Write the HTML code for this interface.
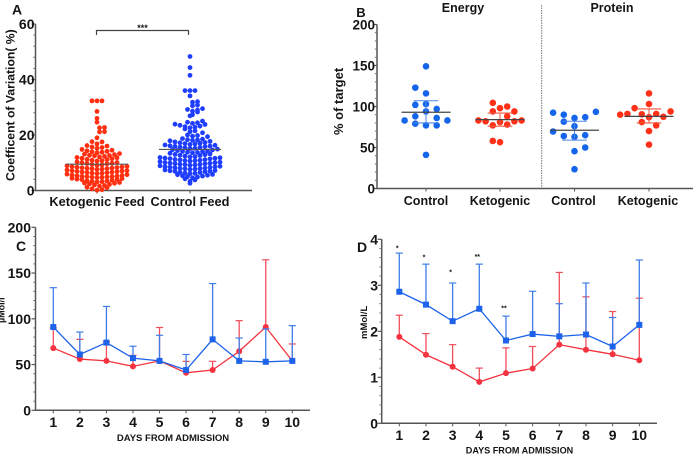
<!DOCTYPE html>
<html lang="en">
<head>
<meta charset="utf-8">
<title>Four panel chart</title>
<style>
html,body{margin:0;padding:0;background:#fff;width:700px;height:457px;overflow:hidden}
svg{display:block;filter:blur(.35px)}
text{font-family:"Liberation Sans",sans-serif;font-weight:bold;fill:#151515}
</style>
</head>
<body>
<svg id="fig" xmlns="http://www.w3.org/2000/svg" width="700" height="457" viewBox="0 0 700 457"></svg>
<script>
// Panel A
const aGroups = ["Ketogenic Feed", "Control Feed"];
const aTicks = [0, 20, 40, 60];
const aKeto = [0.1,0.3,0.6,1,1.2,1.6,1.8,2,2.2,2.4,2.6,2.7,2.9,3.1,3.2,3.3,3.4,3.5,3.7,3.9,4,4.1,4.3,4.4,4.6,4.7,4.8,4.9,5,5,5.1,5.2,5.3,5.4,5.5,5.7,5.9,6.1,6.2,6.3,6.4,6.5,6.6,6.7,6.8,6.9,7,7.1,7.2,7.4,7.6,7.7,7.8,7.9,8,8.1,8.2,8.3,8.4,8.5,8.6,8.7,8.9,9.1,9.2,9.4,9.6,9.7,9.8,10,10.1,10.3,10.6,10.7,10.9,11.1,11.2,11.4,11.6,11.8,11.9,12.1,12.3,12.5,12.6,12.7,12.9,13.1,13.3,13.6,13.8,14,14.1,14.3,14.5,14.8,15.2,15.5,15.7,16,16.2,16.8,17.5,17.6,19,21.1,21.2,22.6,22.7,24.6,26,28.5,32.3,32.3,32.3];
const aControl = [2.6,3.3,3.8,4.2,4.6,4.9,5,5.2,5.3,5.5,5.7,5.8,6.1,6.2,6.3,6.5,6.6,6.8,6.9,7,7.1,7.2,7.4,7.6,7.7,7.8,7.9,8,8.1,8.2,8.3,8.4,8.5,8.6,8.7,8.9,9.1,9.2,9.3,9.4,9.5,9.6,9.7,9.8,9.9,10,10.1,10.2,10.4,10.6,10.7,10.8,10.9,11,11.1,11.2,11.4,11.5,11.6,11.7,11.8,11.9,12.1,12.2,12.4,12.6,12.7,12.9,13,13.2,13.4,13.6,13.7,13.8,14,14.1,14.2,14.4,14.6,14.7,14.9,15.1,15.2,15.4,15.5,15.6,15.8,15.9,16,16.1,16.3,16.4,16.6,16.8,16.9,17,17.2,17.3,17.5,17.7,17.9,18.1,18.2,18.3,18.5,18.7,19.4,19.6,19.8,20,20.8,21.2,21.5,22.2,22.6,22.8,23,23.2,23.5,23.8,23.9,24.2,24.4,24.6,25,26.9,27.3,28.3,28.6,29,29.2,29.5,30.5,30.8,31.8,32,34.1,36,36,36,41.5,44.3,48.3];
const aMeans = [9.5, 14.8];

// Panel B
const bGroups = ["Control", "Ketogenic", "Control", "Ketogenic"];
const bTicks = [0, 50, 100, 150, 200];
const bEnergyControl = [149,116,103,94,86,77,41,123,97,102,88,79,77,83,83];
const bEnergyKeto = [98,81,100,104.5,88,94,78,77,94,82,82,83,83,56.5,58];
const bProteinControl = [86,76,63,45.5,23.5,64,50,81.5,87,90,65,92.5,93.5,69.5];
const bProteinKeto = [116,87,70,53.5,103,90.5,91,81,77,98,87.5,91,94,90];
const bMeans = [93, 84, 71, 88];
const bUpper = [107, 92, 82, 97];
const bLower = [80, 76, 59, 80];

// Panel C
const days = [1, 2, 3, 4, 5, 6, 7, 8, 9, 10];
const cTicks = [0, 50, 100, 150, 200];
const cBlue = [91, 61, 74, 57, 54, 44, 77.5, 54, 53, 54];
const cBlueUpper = [134, 85.5, 113.5, 70, 82, 61, 138.5, 79, 89, 92.5];
const cRed = [68, 56, 54, 48, 54, 41, 44, 64.5, 91, 54];
const cRedUpper = [90, 77.5, 75, 60, 90.5, 53.5, 53.5, 98, 164.5, 72.5];

// Panel D
const dTicks = [0, 1, 2, 3, 4];
const dBlue = [2.86, 2.58, 2.22, 2.49, 1.8, 1.94, 1.89, 1.93, 1.67, 2.14];
const dBlueUpper = [3.7, 3.46, 3.05, 3.46, 2.33, 2.87, 2.6, 3.05, 2.3, 3.55];
const dRed = [1.88, 1.49, 1.23, 0.9, 1.09, 1.19, 1.71, 1.6, 1.5, 1.37];
const dRedUpper = [2.35, 1.95, 1.71, 1.2, 1.64, 1.67, 3.28, 2.75, 2.43, 2.72];
const dStars = ["*", "*", "*", "**", "**"];
const dStarLevels = [3.8, 3.6, 3.28, 3.62, 2.5];

const svg = document.getElementById('fig');
const NS = 'http://www.w3.org/2000/svg';

function mk(tag, attrs, name, parent) {
  const el = document.createElementNS(NS, tag);
  for (const k in attrs) el.setAttribute(k, attrs[k]);
  
  
  (parent || svg).appendChild(el);
  return el;
}
function ln(x1, y1, x2, y2, stroke, w, name, parent) {
  return mk('line', {x1, y1, x2, y2, stroke, 'stroke-width': w}, name, parent);
}
function tx(str, x, y, size, anchor, name, rot) {
  const a = {x, y, 'font-size': size, 'text-anchor': anchor};
  if (rot) a.transform = 'rotate(' + rot + ' ' + x + ' ' + y + ')';
  const t = mk('text', a, name);
  t.textContent = str;
  return t;
}
function scale(d0, d1, r0, r1) {
  return v => r0 + (v - d0) * (r1 - r0) / (d1 - d0);
}
function yAxis(ticks, y, x, minorPerMajor, name, size, gap) {
  const g = mk('g', {}, name + '-y-axis');
  const lo = ticks[0], hi = ticks[ticks.length - 1];
  ln(x, y(lo) + .75, x, y(hi), '#555', 1.5, name + '-y-axis-line', g);
  for (let i = 0; i < ticks.length; i++) {
    ln(x - 4, y(ticks[i]), x, y(ticks[i]), '#555', 1.2, name + '-y-tick', g);
    tx(String(ticks[i]), x - gap, y(ticks[i]) + 5, size, 'end', name + '-y-tick-label');
    if (i < ticks.length - 1) {
      for (let m = 1; m < minorPerMajor; m++) {
        const v = ticks[i] + (ticks[i + 1] - ticks[i]) * m / minorPerMajor;
        ln(x - 2.2, y(v), x, y(v), '#666', .9, name + '-y-minor-tick', g);
      }
    }
  }
}
// Binned swarm: values in a bin are spread symmetrically in a row.
function binnedSwarm(values, cx, y, binWidth, slot, r, color, name) {
  const g = mk('g', {}, name);
  const bins = {};
  values.forEach(v => {
    const b = Math.floor(v / binWidth);
    (bins[b] = bins[b] || []).push(v);
  });
  Object.keys(bins).forEach(b => {
    const row = bins[b];
    row.forEach((v, j) => {
      const k = (j + 1) >> 1;
      const side = j % 2 ? 1 : -1;
      const centre = row.length % 2 ? 0 : 0.5;
      const off = side * k + centre;
      mk('circle', {cx: cx + off * slot, cy: y(v), r, fill: color}, name + '-point', g);
    });
  });
}
// Swarm: each value takes the nearest free column around the group centre.
function swarm(values, cx, y, slot, minDist, r, color, name) {
  const g = mk('g', {}, name);
  const placed = [];
  let left = 0, right = 0;
  values.forEach((v, i) => {
    const py = y(v);
    const first = left < right ? -1 : right < left ? 1 : (i % 2 ? -1 : 1);
    let k = 0, px = cx, found = false;
    for (k = 0; k < 40 && !found; k++) {
      const cands = k === 0 ? [0] : [first * k, -first * k];
      for (const c of cands) {
        const qx = cx + c * slot;
        if (placed.every(p => Math.hypot(p[0] - qx, p[1] - py) >= minDist)) {
          px = qx; found = true;
          if (c < 0) left++;
          if (c > 0) right++;
          break;
        }
      }
    }
    placed.push([px, py]);
    mk('circle', {cx: px, cy: py, r, fill: color}, name + '-point', g);
  });
}

/* ---------- Panel A ---------- */
(function () {
  const y = scale(0, 60, 190.5, 24);
  const x = [97, 190];
  tx('A', 17, 14.5, 14, 'middle', 'panel-a-label');
  yAxis(aTicks, y, 35.5, 5, 'panel-a', 14, 1);
  ln(35, y(0), 252, y(0), '#555', 1.5, 'panel-a-x-axis-line');
  x.forEach(cx => ln(cx, y(0), cx, y(0) + 3, '#555', 1, 'panel-a-x-tick'));
  tx('Coefficent of Variation( %)', 14.5, 181, 12.2, 'start', 'panel-a-y-axis-title', -90);
  binnedSwarm(aKeto, x[0], y, 1.5, 5, 2.4, '#ff2f10', 'ketogenic-feed-swarm');
  binnedSwarm(aControl, x[1], y, 1.5, 5, 2.4, '#1f3dff', 'control-feed-swarm');
  aMeans.forEach((m, i) => ln(x[i] - 31, y(m), x[i] + 31, y(m), '#555', 1.1, 'panel-a-mean-line'));
  tx(aGroups[0], x[0], 206, 12.8, 'middle', 'ketogenic-feed-label');
  tx(aGroups[1], x[1], 206, 12.8, 'middle', 'control-feed-label');
  const br = mk('path', {d: 'M96.5 35V30.5H188.5V35', fill: 'none', stroke: '#444', 'stroke-width': 1.2}, 'significance-bracket');
  tx('***', 142.5, 31, 9, 'middle', 'significance-stars');
})();

/* ---------- Panel B ---------- */
(function () {
  const y = scale(0, 200, 188.5, 24.5);
  const x = [426, 500, 574.5, 649];
  tx('B', 361, 17, 13, 'middle', 'panel-b-label');
  yAxis(bTicks, y, 377, 5, 'panel-b', 13.5, 2);
  ln(377, y(0), 693, y(0), '#555', 1.5, 'panel-b-x-axis-line');
  x.forEach(cx => ln(cx, y(0), cx, y(0) + 3, '#555', 1, 'panel-b-x-tick'));
  tx('% of target', 343, 135, 13, 'start', 'panel-b-y-axis-title', -90);
  tx('Energy', 463, 12, 12.5, 'middle', 'energy-heading');
  tx('Protein', 612, 12, 12.5, 'middle', 'protein-heading');
  mk('line', {x1: 541.7, y1: 5, x2: 541.7, y2: 188, stroke: '#777', 'stroke-width': 1, 'stroke-dasharray': '1.5 1'}, 'section-divider');
  const sets = [bEnergyControl, bEnergyKeto, bProteinControl, bProteinKeto];
  const colors = ['#1565ea', '#ff3018', '#1565ea', '#ff3018'];
  const slots = [10.7, 7.2, 10.7, 7.2];
  const names = ['energy-control', 'energy-ketogenic', 'protein-control', 'protein-ketogenic'];
  sets.forEach((s, i) => {
    swarm(s, x[i], y, slots[i], 6.6, 3.3, colors[i], names[i] + '-swarm');
    const c = i % 2 ? '#f0563f' : '#4a86e8';
    ln(x[i], y(bUpper[i]), x[i], y(bLower[i]), c, 1, names[i] + '-error-bar');
    ln(x[i] - 12.3, y(bUpper[i]), x[i] + 12.3, y(bUpper[i]), c, 1.1, names[i] + '-error-cap-upper');
    ln(x[i] - 12.3, y(bLower[i]), x[i] + 12.3, y(bLower[i]), c, 1.1, names[i] + '-error-cap-lower');
    ln(x[i] - 24.5, y(bMeans[i]), x[i] + 24.5, y(bMeans[i]), '#444', 1.2, names[i] + '-mean-line');
    tx(bGroups[i], x[i] - (i > 1 ? 1 : 0), 205, 12.5, 'middle', names[i] + '-label');
  });
})();

/* ---------- Line panels ---------- */
function series(vals, upper, xf, y, color, capColor, marker, name, size) {
  const g = mk('g', {}, name);
  vals.forEach((v, i) => {
    const px = xf(days[i]);
    ln(px, y(v), px, y(upper[i]), capColor, 1.3, name + '-error-bar', g);
    ln(px - 3.6, y(upper[i]), px + 3.6, y(upper[i]), capColor, 1.2, name + '-error-cap', g);
  });
  mk('polyline', {
    points: vals.map((v, i) => xf(days[i]) + ',' + y(v)).join(' '),
    fill: 'none', stroke: color, 'stroke-width': 1.3
  }, name + '-line', g);
  vals.forEach((v, i) => {
    const px = xf(days[i]), py = y(v);
    if (marker === 'circle') {
      mk('circle', {cx: px, cy: py, r: size / 2, fill: color}, name + '-marker', g);
    } else {
      mk('rect', {x: px - size / 2, y: py - size / 2, width: size, height: size, fill: color}, name + '-marker', g);
    }
  });
}
function dayAxis(xf, y0, x0, x1, labelY, titleX, titleY, titleSize, name) {
  ln(x0, y0, x1, y0, '#555', 1.5, name + '-x-axis-line');
  days.forEach(d => {
    ln(xf(d), y0, xf(d), y0 + 3, '#555', 1, name + '-x-tick');
    tx(String(d), xf(d), labelY, 14, 'middle', name + '-x-tick-label');
  });
  tx('DAYS FROM ADMISSION', titleX, titleY, titleSize, 'middle', name + '-x-axis-title');
}

/* ---------- Panel C ---------- */
(function () {
  const y = scale(0, 200, 410.3, 227.3);
  const xf = scale(1, 10, 53.3, 292.3);
  yAxis(cTicks, y, 35.5, 5, 'panel-c', 14, 4.5);
  tx('C', 21, 251, 14, 'middle', 'panel-c-label');
  tx('µMol/l', 4.5, 323, 9, 'start', 'panel-c-y-axis-title', -90);
  dayAxis(xf, y(0), 35, 310, 427, 173, 441, 9.5, 'panel-c');
  series(cRed, cRedUpper, xf, y, '#f5323f', '#f0505c', 'circle', 'panel-c-red-series', 6);
  series(cBlue, cBlueUpper, xf, y, '#1c62ea', '#3f7ee8', 'square', 'panel-c-blue-series', 6);
})();

/* ---------- Panel D ---------- */
(function () {
  const y = scale(0, 4, 423.3, 239.3);
  const xf = scale(1, 10, 399.3, 639.3);
  yAxis(dTicks, y, 381.7, 5, 'panel-d', 14, 3.7);
  tx('D', 362, 252, 14, 'middle', 'panel-d-label');
  tx('mMol/L', 367, 339, 9.5, 'start', 'panel-d-y-axis-title', -90);
  dayAxis(xf, y(0), 381, 657, 440, 519.5, 453.5, 9.1, 'panel-d');
  series(dRed, dRedUpper, xf, y, '#f5323f', '#f0505c', 'circle', 'panel-d-red-series', 6);
  series(dBlue, dBlueUpper, xf, y, '#1c62ea', '#3f7ee8', 'square', 'panel-d-blue-series', 6);
  dStars.forEach((s, i) => {
    tx(s, xf(days[i]) - 2, y(dStarLevels[i]) + 2, 7, 'middle', 'panel-d-significance-star');
  });
})();
</script>
</body>
</html>
